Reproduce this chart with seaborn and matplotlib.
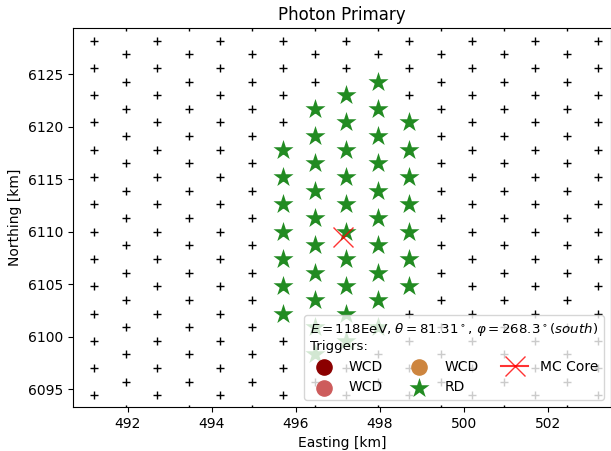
import numpy as np
import pandas as pd
import matplotlib
matplotlib.use("Agg")
import matplotlib.pyplot as plt
import seaborn as sns

# station grid (hexagonal layout, rows alternate between two sets of columns)
row_y = [6129.5, 6128.2, 6126.9, 6125.6, 6124.3, 6123.0, 6121.7, 6120.4, 6119.1,
         6117.8, 6116.5, 6115.2, 6113.9, 6112.6, 6111.3, 6110.0, 6108.7,
         6107.4, 6106.1, 6104.8, 6103.5, 6102.2, 6100.9, 6099.6, 6098.3,
         6097.0, 6095.7, 6094.4, 6093.1]
even_cols = [491.2, 492.7, 494.2, 495.7, 497.2, 498.7, 500.2, 501.7, 503.2]
odd_cols = [491.95, 493.45, 494.95, 496.45, 497.95, 499.45, 500.95, 502.45]

# radio detector triggers
rd_x = ([495.7] * 7 + [496.45] * 10 + [497.2] * 10 + [497.95] * 10 + [498.7] * 7)
rd_y = [6117.8, 6115.2, 6112.6, 6110.0, 6107.4, 6104.8, 6102.2,
        6121.7, 6119.1, 6116.5, 6113.9, 6111.3, 6108.7, 6106.1, 6103.5, 6100.9, 6098.3,
        6123.0, 6120.4, 6117.8, 6115.2, 6112.6, 6110.0, 6107.4, 6104.8, 6102.2, 6099.6,
        6124.3, 6121.7, 6119.1, 6116.5, 6113.9, 6111.3, 6108.7, 6106.1, 6103.5, 6100.9,
        6120.4, 6117.8, 6115.2, 6112.6, 6110.0, 6107.4, 6104.8]

core_x = [497.13]
core_y = [6109.5]

# build the station table
gx, gy = [], []
for i, y in enumerate(row_y):
    cols = odd_cols if i % 2 == 0 else even_cols
    gx += cols
    gy += [y] * len(cols)
stations = pd.DataFrame({'x': gx, 'y': gy})
rd = pd.DataFrame({'x': rd_x, 'y': rd_y})

fig, ax = plt.subplots(figsize=(6.11, 4.51), dpi=100)
fig.subplots_adjust(left=0.1195, right=0.9995, top=0.938, bottom=0.0976)

sns.scatterplot(data=stations, x='x', y='y', marker='+', color='black',
                s=40, linewidth=1, ax=ax)

# empty WCD trigger categories (legend only)
ax.scatter([], [], s=120, color='darkred', label='WCD')
ax.scatter([], [], s=120, color='indianred', label='WCD')
ax.scatter([], [], s=120, color='peru', label='WCD')

sns.scatterplot(data=rd, x='x', y='y', marker='*', color='forestgreen',
                s=230, linewidth=0, label='RD', ax=ax, zorder=3)

ax.plot(core_x, core_y, marker='x', color='red', ms=15, mew=1, alpha=0.8,
        label='MC Core', zorder=4)

ax.set_xlim(490.7, 503.5)
ax.set_ylim(6093.3, 6129.4)
ax.set_title('Photon Primary')
ax.set_xlabel('Easting [km]')
ax.set_ylabel('Northing [km]')

leg = ax.legend(loc='lower right', ncol=3, columnspacing=1.6, title_fontsize=9.6,
                title=r'$E=118$EeV, $\theta=81.31^\circ$, $\varphi=268.3^\circ(south)$' + '\nTriggers:')
leg._legend_box.align = 'left'

fig.savefig('out.png', dpi=100)
